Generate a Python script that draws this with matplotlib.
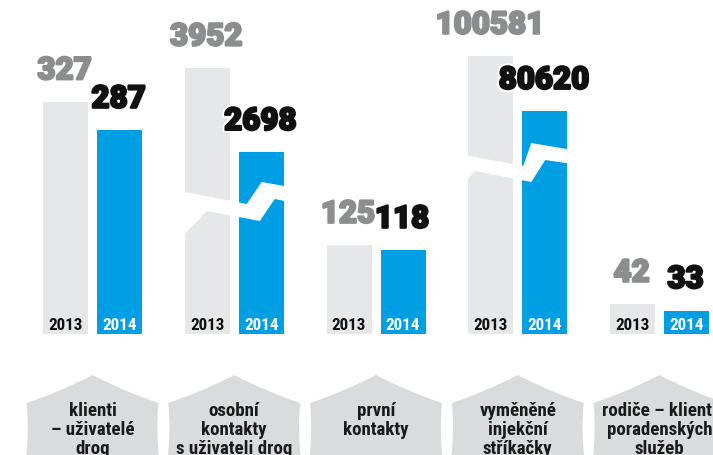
import numpy as np
import matplotlib
matplotlib.use('Agg')
import matplotlib.pyplot as plt
from matplotlib import font_manager, patheffects
from matplotlib.path import Path
from matplotlib.patches import PathPatch, Polygon

# Data
categories = ['klienti\n– uživatelé\ndrog',
              'osobní\nkontakty\ns uživateli drog',
              'první\nkontakty',
              'vyměněné\ninjekční\nstříkačky',
              'rodiče – klienti\nporadenských\nslužeb']
years = ['2013', '2014']
values_2013 = [327, 3952, 125, 100581, 42]
values_2014 = [287, 2698, 118, 80620, 33]
# bars of the big groups are shrunk (axis break)
display_scale = [1, 0.0948, 1, 0.00389, 1]

# Fonts
names = {f.name for f in font_manager.fontManager.ttflist}
def pick(cands):
    return next((c for c in cands if c in names), 'DejaVu Sans')
narrow = pick(['Roboto Condensed', 'Open Sans Condensed', 'Noto Sans Condensed',
               'Liberation Sans Narrow', 'Roboto'])
heavy = pick(['Roboto', 'Lato', 'Inter', 'Noto Sans'])

# Colours
grey = '#e6e7e8'
blue = '#009fe3'
tab_grey = '#dadbdc'
label_grey = '#8c8d8f'
ink = '#111111'

# Layout in pixels
W, H = 713, 456
X0, GAP, UNIT, BASE = 92.5, 141.75, 0.71, 335

fig = plt.figure(figsize=(W / 100, H / 100), dpi=100)
ax = fig.add_axes([0, 0, 1, 1])
ax.set_xlim(-X0 / GAP, (W - X0) / GAP)
ax.set_ylim(-(H - BASE) / UNIT, BASE / UNIT)
ax.axis('off')

def dx(p):
    return p / GAP

def dy(p):
    return p / UNIT

x = np.arange(len(categories))
off = dx(27)
bw = dx(45)
h13 = np.array(values_2013) * np.array(display_scale)
h14 = np.array(values_2014) * np.array(display_scale)

ax.bar(x - off, h13, width=bw, color=grey, zorder=1)
ax.bar(x + off, h14, width=bw, color=blue, zorder=1)

# axis-break bands (white zigzag), offsets in px from group centre / baseline
breaks = {
    1: [(-54.5, 143), (12.5, 130), (27.5, 152), (55.5, 147), (55.5, 132),
        (40.5, 135), (25.5, 113), (-27.5, 123), (-54.5, 95)],
    3: [(-54.5, 179), (5.5, 168), (13.5, 191), (54.5, 184), (54.5, 170),
        (27.5, 174), (13.5, 152), (-42.5, 163), (-54.5, 151)],
}
for i, pts in breaks.items():
    poly = [(x[i] + dx(a), dy(b)) for a, b in pts]
    ax.add_patch(Polygon(poly, closed=True, facecolor='white',
                         edgecolor='none', zorder=2))

# value labels
for i in x:
    for xpos, h, v, c in [(x[i] - off, h13[i], values_2013[i], label_grey),
                          (x[i] + off, h14[i], values_2014[i], ink)]:
        fx = [patheffects.Stroke(linewidth=4.5, foreground='white'),
              patheffects.Stroke(linewidth=1.6, foreground=c),
              patheffects.Normal()]
        ax.annotate(str(v), (xpos, h), xytext=(-0.7, 22.5 * 0.72),
                    textcoords='offset points', ha='center', va='baseline',
                    fontsize=22.5, fontweight='black', family=heavy, color=c,
                    path_effects=fx, zorder=4)
    ax.text(x[i] - off, dy(5), years[0], ha='center', va='baseline',
            fontsize=12.3, fontweight='bold', family=narrow, color=ink, zorder=3)
    ax.text(x[i] + off, dy(5), years[1], ha='center', va='baseline',
            fontsize=12.3, fontweight='bold', family=narrow, color='white', zorder=3)

# category tabs
for i in x:
    cx = x[i]
    def P(a, b):
        return (cx + dx(a), dy(BASE - b))
    verts = [P(-67, 462), P(-63, 432), P(-66, 404),
             P(-33, 393), P(0, 376),
             P(33, 393), P(66, 404),
             P(63, 432), P(67, 462), P(-67, 462)]
    codes = [Path.MOVETO, Path.CURVE3, Path.CURVE3,
             Path.CURVE3, Path.CURVE3,
             Path.CURVE3, Path.CURVE3,
             Path.CURVE3, Path.CURVE3, Path.CLOSEPOLY]
    ax.add_patch(PathPatch(Path(verts, codes), facecolor=tab_grey,
                           edgecolor='none', zorder=1))
    for k, line in enumerate(categories[i].split('\n')):
        ax.text(cx, dy(BASE - (416.5 + 18.7 * k)), line, ha='center', va='baseline',
                fontsize=13.6, fontweight='bold', family=narrow, color='#1a1a1a',
                zorder=3)

fig.savefig('out.png', dpi=100)
